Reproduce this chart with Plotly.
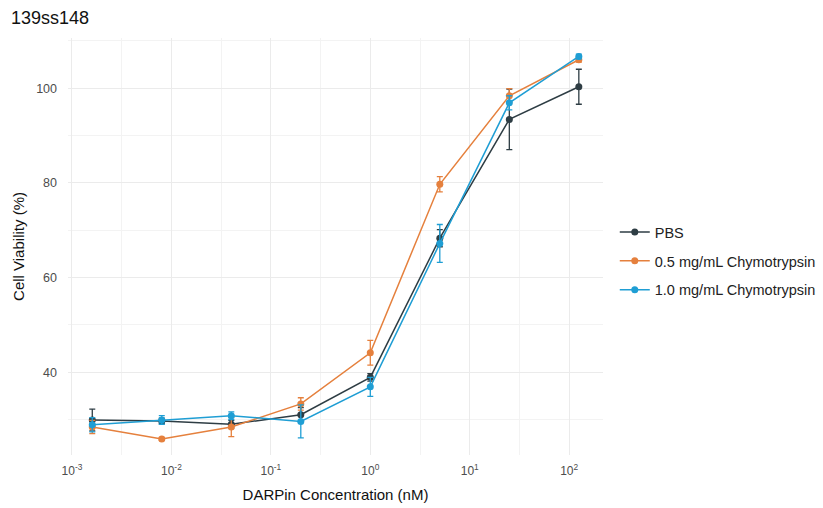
import plotly.graph_objects as go

conc = [0.0016, 0.008, 0.04, 0.2, 1, 5, 25, 125]

pbs = [29.9, 29.7, 29.0, 31.0, 38.9, 68.3, 93.4, 100.3]
pbs_err = [2.3, 0.6, 0.8, 1.5, 0.8, 1.8, 6.4, 3.7]

chy05 = [28.4, 25.9, 28.4, 33.3, 44.1, 79.7, 98.4, 106.0]
chy05_err = [1.4, 0.3, 2.0, 1.3, 2.6, 1.6, 1.5, 0.5]

chy10 = [28.9, 29.9, 30.8, 29.6, 36.9, 67.2, 96.9, 106.7]
chy10_err = [1.5, 0.9, 0.8, 3.5, 2.0, 4.0, 1.5, 0.5]

names = ["PBS", "0.5 mg/mL Chymotrypsin", "1.0 mg/mL Chymotrypsin"]
colors = ["#2E3D44", "#E5803D", "#1F9ED4"]

x_ticks = [1e-3, 1e-2, 1e-1, 1, 10, 100]
x_ticktext = ["10<sup>-3</sup>", "10<sup>-2</sup>", "10<sup>-1</sup>",
              "10<sup>0</sup>", "10<sup>1</sup>", "10<sup>2</sup>"]
x_minor = [10 ** (-2.5), 10 ** (-1.5), 10 ** (-0.5), 10 ** 0.5, 10 ** 1.5]
y_ticks = [40, 60, 80, 100]
y_minor = [30, 50, 70, 90, 110]

fig = go.Figure()
for name, ys, es, c in zip(names, [pbs, chy05, chy10], [pbs_err, chy05_err, chy10_err], colors):
    fig.add_trace(go.Scatter(
        x=conc, y=ys, name=name, legendgroup=name, mode="lines+markers",
        line=dict(color=c, width=1.5),
        marker=dict(color=c, size=7),
        error_y=dict(type="data", array=es, visible=True, color=c, thickness=1.3, width=3),
    ))

font_family = "Liberation Sans, Arial, Helvetica, sans-serif"
fig.update_layout(
    width=823, height=508,
    margin=dict(l=68, r=220, t=38, b=53, autoexpand=False),
    paper_bgcolor="white", plot_bgcolor="white",
    font=dict(family=font_family, color="#222222"),
    legend=dict(x=1.022, xanchor="left", y=0.465, yanchor="middle",
                font=dict(size=14.5, color="#222222"), tracegroupgap=7, itemwidth=30),
    showlegend=True,
    annotations=[dict(text="139ss148", xref="paper", yref="paper",
                      x=-0.111, y=1.048, xanchor="left", yanchor="middle",
                      showarrow=False, font=dict(size=18, color="#111111"))],
)
fig.update_xaxes(
    type="log", range=[-3.04, 2.34], automargin=False,
    tickvals=x_ticks, ticktext=x_ticktext,
    tickfont=dict(size=12, color="#4D4D4D"),
    showgrid=True, gridcolor="#EBEBEB", gridwidth=1.1,
    minor=dict(tickvals=x_minor, showgrid=True, gridcolor="#F3F3F3", gridwidth=0.7),
    zeroline=False, showline=False, ticks="", ticklabelstandoff=7,
    title=dict(text="DARPin Concentration (nM)", font=dict(size=15, color="#111111"), standoff=12),
)
fig.update_yaxes(
    range=[22.5, 110.6], automargin=False,
    tickvals=y_ticks,
    tickfont=dict(size=12.5, color="#4D4D4D"),
    showgrid=True, gridcolor="#EBEBEB", gridwidth=1.1,
    minor=dict(tickvals=y_minor, showgrid=True, gridcolor="#F3F3F3", gridwidth=0.7),
    zeroline=False, showline=False, ticks="", ticklabelstandoff=10,
    title=dict(text="Cell Viability (%)", font=dict(size=15, color="#111111"), standoff=7),
)

fig.write_html("out.html", config={"displayModeBar": False},
               post_script="document.body.style.margin='0';")
